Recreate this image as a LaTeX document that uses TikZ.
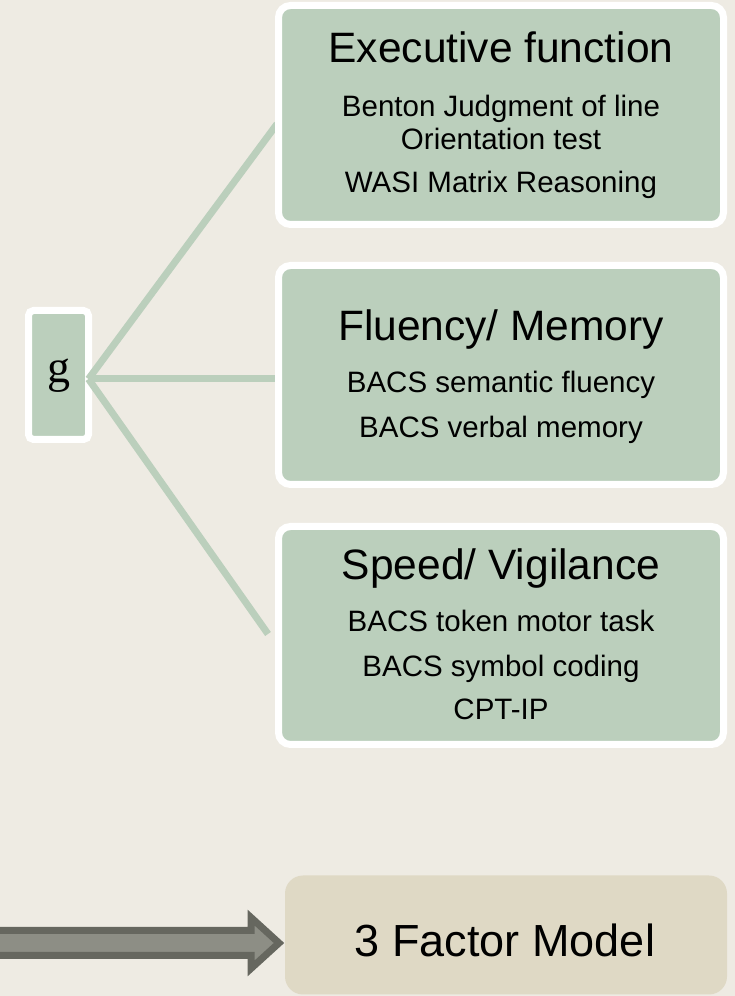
\documentclass[tikz,border=0pt]{standalone}
\usepackage{fontspec}
\setmainfont{Liberation Sans}
\newfontfamily\gfont{Liberation Serif}
\usetikzlibrary{positioning}

\definecolor{bgbeige}{RGB}{238,235,227}
\definecolor{sage}{RGB}{187,207,188}
\definecolor{sand}{RGB}{223,217,197}
\definecolor{arrowdark}{RGB}{102,103,95}
\definecolor{arrowlight}{RGB}{141,142,133}

\tikzset{
  factor/.style={draw=white, line width=7pt, fill=sage, rounded corners=12pt,
    minimum width=445pt, minimum height=219pt, inner sep=0pt, outer sep=0pt},
  ftitle/.style={anchor=base, font=\fontsize{42.5}{42.5}\selectfont},
  ftest/.style={anchor=base, font=\fontsize{29.5}{29.5}\selectfont},
  link/.style={draw=sage, line width=7pt},
  arrowbody/.style={draw=arrowdark, fill=arrowlight, line width=7pt},
}

\begin{document}
\begin{tikzpicture}[x=1pt,y=1pt]
\fill[bgbeige] (0,0) rectangle (735,996);
\useasboundingbox (0,0) rectangle (735,996);

% general factor
\node[draw=white, line width=7pt, fill=sage, rounded corners=5pt, minimum width=60pt,
  minimum height=129pt, inner sep=0pt, outer sep=0pt, text height=20pt, text depth=4pt,
  font=\gfont\fontsize{46}{46}\selectfont] (g) at (58.5,621) {g};

\coordinate (hub) at ([yshift=-4pt]g.east);
\coordinate (efend) at (277,872);
\coordinate (fmend) at (277,617);
\coordinate (svend) at (268,362);
\foreach \e in {efend,fmend,svend} {
\draw[link] (hub) -- (\e);
}

% the three factors
\node[factor] (ef) at (501,881) {};
\node[factor] (fm) at (501,621) {};
\node[factor, minimum height=218pt] (sv) at (501,360.5) {};

\node[ftitle] (eft) at (501,933) {Executive function};
\node[ftest] (ef1) at (501,879) {Benton Judgment of line};
\node[ftest] (ef2) at (501,846) {Orientation test};
\node[ftest] (ef3) at (501,803) {WASI Matrix Reasoning};

\node[ftitle] (fmt) at (501,655) {Fluency/ Memory};
\node[ftest] (fm1) at (501,603) {BACS semantic fluency};
\node[ftest] (fm2) at (501,558) {BACS verbal memory};

\node[ftitle] (svt) at (501,416) {Speed/ Vigilance};
\node[ftest] (sv1) at (501,364) {BACS token motor task};
\node[ftest] (sv2) at (501,319) {BACS symbol coding};
\node[ftest] (sv3) at (501,276) {CPT-IP};

% model
\node[fill=sand, rounded corners=18pt, minimum width=442pt, minimum height=119pt,
  inner sep=0pt, outer sep=0pt] (model) at (506,61) {};
\node[anchor=base, font=\fontsize{45}{45}\selectfont] (modelt) at (505,39) {3 Factor Model};

\coordinate (tip) at ([xshift=-6pt,yshift=-8pt]model.west);
\coordinate (tail) at (-10,53);
\draw[arrowbody] ([yshift=12.5pt]tail) -- ([xshift=-28pt,yshift=12.5pt]tip)
  -- ([xshift=-28pt,yshift=25.5pt]tip) -- (tip) -- ([xshift=-28pt,yshift=-25.5pt]tip)
  -- ([xshift=-28pt,yshift=-12.5pt]tip) -- ([yshift=-12.5pt]tail) -- cycle;
\end{tikzpicture}
\end{document}
